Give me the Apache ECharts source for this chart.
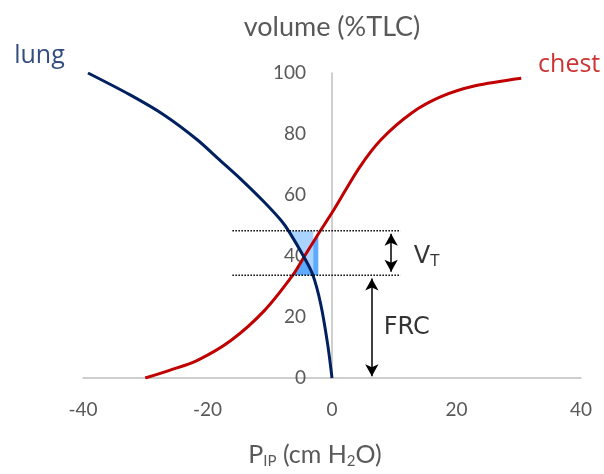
<!DOCTYPE html>
<html><head><meta charset="utf-8">
<script src="https://cdn.jsdelivr.net/npm/echarts@6/dist/echarts.min.js"></script>
<style>html,body{margin:0;padding:0;background:#fff}#c{width:604px;height:474px}</style>
</head><body><div id="c"></div>
<script>
// Data
const xTicks = [-40, -20, 0, 20, 40];
const yTicks = [0, 20, 40, 60, 80, 100];
const lung = [[-39.2,100],[-32.5,92.9],[-27.1,86.4],[-21.7,78.2],[-17.9,71.2],[-14.7,65.3],[-10.9,57.7],[-8.2,51.7],[-6.9,48],[-4.6,40],[-3.1,33.9],[-1.8,24.1],[-0.7,11.1],[0,0]];
const chest = [[-30,0],[-26,2.6],[-21.7,5.7],[-16.3,12.2],[-10.9,22],[-6.3,33.7],[-4.4,40],[-2.3,46.9],[0.4,55.5],[4.4,69],[7.9,78.2],[12.8,86.9],[17.6,92.3],[23,95.8],[30.4,98.3]];
const frc = 33.7;            // end-expiratory volume
const eiv = 48.3;            // end-inspiratory volume
const refLineX = [-16, 11];  // extent of dotted reference lines
const lungPatch = [[-6.8,48.3],[-3,48.3],[-3,33.7],[-3.2,33.7],[-4.6,40],[-5.8,44.5]];
const chestPatch = [[-6.3,33.7],[-2.2,33.7],[-2.2,47.2],[-2.3,46.9],[-4.4,40]];
const vtArrow = [[9.5,47.3],[9.5,34.8]];
const frcArrow = [[6.4,32.6],[6.4,0.6]];
const labels = [
  {name:'lung', value:[-47,105.5], color:'#002060'},
  {name:'chest', value:[38.1,102.6], color:'#C00000'}
];
const annot = [
  {name:'VT', value:[15.2,39.9]},
  {name:'FRC', value:[12,16.6]}
];

const chart = echarts.init(document.getElementById('c'));
const gray = '#595959';
const font = 'Lato';

function patchSeries(pts, color, z) {
  return {
    type:'custom', z:z, silent:true, clip:false,
    data:[0],
    renderItem:function(params, api){
      return {type:'polygon', shape:{points: pts.map(p => api.coord(p))}, style:{fill:color}};
    }
  };
}

function arrowSeries(seg) {
  return {
    type:'line', data:[], z:6, silent:true,
    markLine:{
      silent:true, symbol:['arrow','arrow'], symbolSize:[10,12], animation:false,
      label:{show:false},
      lineStyle:{color:'#000', width:1.5, type:'solid'},
      itemStyle:{color:'#000'},
      data:[[{coord:seg[0]},{coord:seg[1]}]]
    }
  };
}

chart.setOption({
  animation:false,
  grid:{left:83, right:23, top:73, bottom:93},
  xAxis:{
    type:'value', min:-40, max:40, interval:20,
    axisLine:{onZero:true, lineStyle:{color:'#BFBFBF', width:1.5}},
    axisTick:{show:false}, splitLine:{show:false},
    axisLabel:{color:gray, fontSize:19, fontFamily:font, margin:22,
      formatter:v => xTicks.includes(v) ? String(v) : ''},
    name:'P{sub|IP} (cm H{sub|2}O)', nameLocation:'middle', nameGap:62,
    nameTextStyle:{color:gray, fontSize:25, fontFamily:font, padding:[0,34,0,0],
      rich:{sub:{fontSize:15, fontFamily:font, color:gray, padding:[14,0,0,0]}}}
  },
  yAxis:{
    type:'value', min:0, max:100, interval:20, offset:-249,
    axisLine:{show:true, onZero:false, lineStyle:{color:'#BFBFBF', width:1.5}},
    axisTick:{show:false}, splitLine:{show:false},
    axisLabel:{color:gray, fontSize:19, fontFamily:font, margin:26,
      formatter:v => yTicks.includes(v) ? String(v) : ''},
    name:'volume (%TLC)', nameLocation:'end', nameGap:32,
    nameTextStyle:{color:gray, fontSize:27, fontFamily:font, align:'center'}
  },
  series:[
    patchSeries(chestPatch, '#5EAAFE', 1),
    patchSeries(lungPatch, '#ABD3FF', 2),
    {type:'line', data:chest, smooth:0.3, symbol:'none', z:3,
      lineStyle:{color:'#C00000', width:3}},
    {type:'line', data:lung, smooth:0.3, symbol:'none', z:4,
      lineStyle:{color:'#002060', width:3}},
    {type:'line', data:[[refLineX[0],eiv],[refLineX[1],eiv]], symbol:'none', z:5,
      lineStyle:{color:'#000', width:1.5, type:[1.5,1.5]}},
    {type:'line', data:[[refLineX[0],frc],[refLineX[1],frc]], symbol:'none', z:5,
      lineStyle:{color:'#000', width:1.5, type:[1.5,1.5]}},
    arrowSeries(vtArrow),
    arrowSeries(frcArrow),
    {type:'scatter', data:labels.map(d => ({value:d.value, label:{color:d.color}})), symbolSize:0, clip:false, silent:true,
      label:{show:true, position:'inside', fontSize:25, fontFamily:'Open Sans',
        formatter:p => labels[p.dataIndex].name}},
    {type:'scatter', data:annot, symbolSize:0, clip:false, silent:true,
      label:{show:true, position:'inside', color:'#000', fontFamily:'DejaVu Sans',
        formatter:p => p.dataIndex === 0 ? 'V{s|T}' : 'FRC',
        rich:{s:{fontSize:15, fontFamily:'DejaVu Sans', color:'#000', padding:[12,0,0,0]}},
        fontSize:24}}
  ]
});
</script></body></html>
